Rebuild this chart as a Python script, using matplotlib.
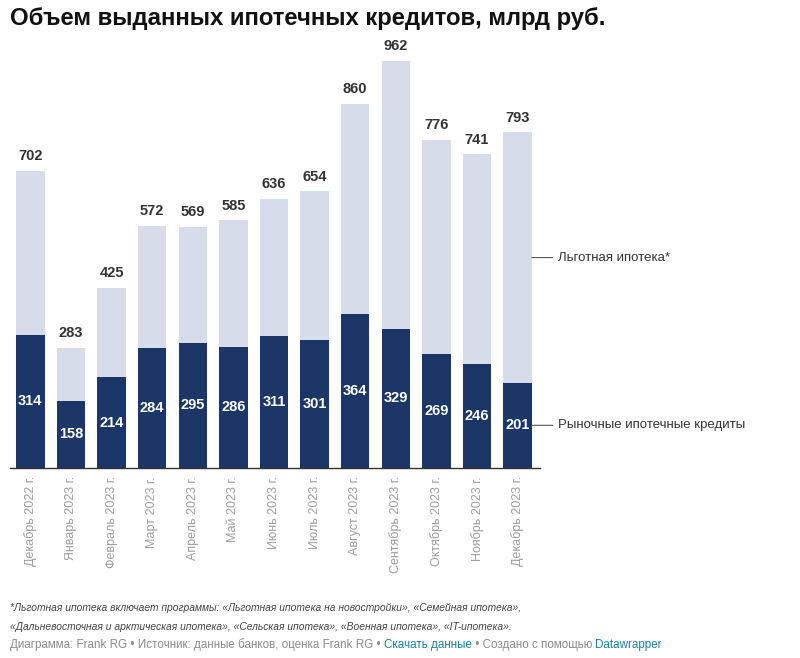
import matplotlib.pyplot as plt

plt.rcParams['font.family'] = ['Liberation Sans', 'DejaVu Sans']

months = ['Декабрь 2022 г.', 'Январь 2023 г.', 'Февраль 2023 г.', 'Март 2023 г.',
          'Апрель 2023 г.', 'Май 2023 г.', 'Июнь 2023 г.', 'Июль 2023 г.',
          'Август 2023 г.', 'Сентябрь 2023 г.', 'Октябрь 2023 г.', 'Ноябрь 2023 г.',
          'Декабрь 2023 г.']
market = [314, 158, 214, 284, 295, 286, 311, 301, 364, 329, 269, 246, 201]
total = [702, 283, 425, 572, 569, 585, 636, 654, 860, 962, 776, 741, 793]
subsid = [t - m for t, m in zip(total, market)]

dark = '#1b3667'
light = '#d6dcea'

fig = plt.figure(figsize=(8, 6.58), dpi=100)
ax = fig.add_axes([0.0125, 0.289, 0.6625, 0.643])

x = list(range(len(months)))
ax.bar(x, market, width=0.7, color=dark)
ax.bar(x, subsid, bottom=market, width=0.7, color=light)

for i in x:
    ax.text(i, market[i] / 2, str(market[i]), ha='center', va='center',
            color='white', fontsize=10.5, fontweight='bold')
    ax.text(i, total[i] + 18, str(total[i]), ha='center', va='bottom',
            color='#333333', fontsize=10.5, fontweight='bold')

ax.set_xlim(-0.5, 12.55)
ax.set_ylim(0, 1000)
ax.set_xticks(x)
ax.set_xticklabels(months, rotation=90, color='#9d9d9d', fontsize=9)
ax.tick_params(axis='x', length=0, pad=6)
ax.set_yticks([])
for s in ['top', 'right', 'left']:
    ax.spines[s].set_visible(False)
ax.spines['bottom'].set_color('#333333')
ax.spines['bottom'].set_linewidth(1)

# series labels attached to the last bar
last = len(months) - 1
for yv, label in [(market[last] + subsid[last] / 2, 'Льготная ипотека*'),
                  (market[last] / 2, 'Рыночные ипотечные кредиты')]:
    ax.annotate(label, xy=(last + 0.35, yv), xytext=(last + 1.0, yv),
                va='center', ha='left', fontsize=9.5, color='#333333',
                annotation_clip=False,
                arrowprops=dict(arrowstyle='-', color='#555555', lw=0.8,
                                shrinkA=2, shrinkB=0))

fig.text(0.0125, 0.972, 'Объем выданных ипотечных кредитов, млрд руб.',
         fontsize=17.2, fontweight='bold', color='#111111', va='center')

fig.text(0.0125, 0.0610,
         '*Льготная ипотека включает программы: «Льготная ипотека на новостройки», «Семейная ипотека»,\n'
         '«Дальневосточная и арктическая ипотека», «Сельская ипотека», «Военная ипотека», «IT-ипотека».',
         fontsize=7.4, style='italic', color='#444444', va='center', linespacing=2.1)

# source line with coloured links
parts = [('Диаграмма: Frank RG • Источник: данные банков, оценка Frank RG • ', '#8c8c8c'),
         ('Скачать данные', '#1d81a2'),
         (' • Создано с помощью ', '#8c8c8c'),
         ('Datawrapper', '#1d81a2')]
fig.canvas.draw()
renderer = fig.canvas.get_renderer()
xpos = 0.0125
for txt, col in parts:
    t = fig.text(xpos, 0.0198, txt, fontsize=8.4, color=col, va='center')
    bb = t.get_window_extent(renderer=renderer)
    xpos += bb.width / fig.bbox.width

fig.savefig('out.png', dpi=100, facecolor='white')
